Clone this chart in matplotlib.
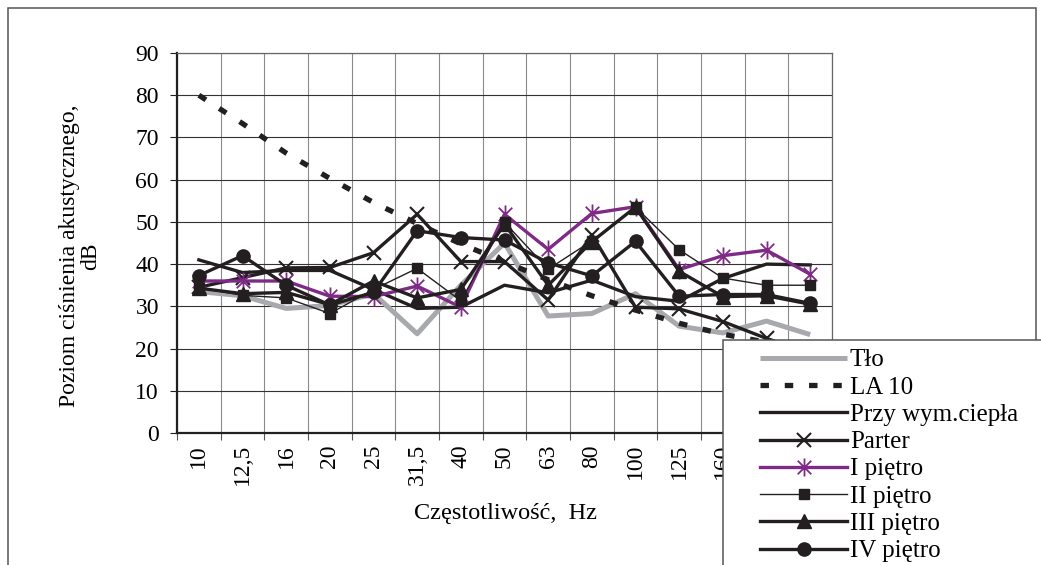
import numpy as np
import matplotlib.pyplot as plt
from matplotlib.path import Path
from matplotlib.patches import Rectangle

plt.rcParams["font.family"] = ["Liberation Serif", "DejaVu Serif"]
plt.rcParams["font.size"] = 17

freq = ["10", "12,5", "16", "20", "25", "31,5", "40", "50", "63", "80",
        "100", "125", "160", "200", "250"]
tlo = [33.5, 32.5, 29.5, 30.2, 33.0, 23.5, 35.0, 45.0, 27.7, 28.3, 33.0, 25.3, 23.7, 26.5, 23.3]
la10 = [80.0, 73.3, 66.3, 60.3, 54.6, 49.6, 44.8, 40.5, 36.3, 32.5, 29.1, 26.0, 23.4, 21.5, 19.8]
wymiennik = [41.0, 38.0, 38.5, 38.5, 34.0, 29.5, 29.8, 35.0, 33.2, 36.2, 32.3, 31.2, 36.6, 40.0, 39.8]
parter = [34.5, 36.8, 39.1, 39.2, 42.7, 51.8, 40.6, 40.6, 31.5, 47.0, 29.8, 29.4, 26.4, 22.4, 19.0]
pietro1 = [36.0, 36.0, 36.0, 32.4, 32.3, 34.8, 29.8, 51.8, 43.5, 52.0, 53.6, 38.7, 42.0, 43.3, 37.6]
pietro2 = [34.4, 32.6, 32.0, 28.3, 34.0, 39.0, 31.3, 49.9, 38.8, 45.5, 53.5, 43.4, 36.7, 35.0, 35.0]
pietro3 = [34.3, 33.0, 33.3, 30.4, 36.0, 32.0, 34.0, 49.5, 35.0, 45.3, 53.5, 38.3, 32.3, 32.5, 30.5]
pietro4 = [37.3, 42.0, 35.0, 30.3, 33.3, 47.9, 46.3, 45.7, 40.3, 37.2, 45.4, 32.4, 32.8, 32.8, 30.7]

black = "#231f20"
purple = "#7f2a87"
star = Path([(0, -1), (0, 1), (-0.75, -0.75), (0.75, 0.75), (-0.75, 0.75), (0.75, -0.75)],
            [Path.MOVETO, Path.LINETO, Path.MOVETO, Path.LINETO, Path.MOVETO, Path.LINETO])

W, H = 1041, 565
fig = plt.figure(figsize=(W / 100, H / 100), dpi=100)
ax = fig.add_axes([177 / W, 1 - 433 / H, (832 - 177) / W, (433 - 53) / H])
x = np.arange(len(freq))

ax.plot(x, tlo, color="#a7a9ac", lw=3.6, solid_capstyle="butt", label="Tło")
ax.plot(x, la10, color=black, lw=3.8, ls=(0, (1.6, 3.0)), dash_capstyle="butt", label="LA 10")
ax.plot(x, wymiennik, color=black, lw=2.4, label="Przy wym.ciepła")
ax.plot(x, parter, color=black, lw=2.4, marker="x", ms=10, mew=1.5, label="Parter")
ax.plot(x, pietro1, color=purple, lw=2.4, marker=star, ms=13, mew=1.3, label="I piętro")
ax.plot(x, pietro2, color=black, lw=1.0, marker="s", ms=6.5, label="II piętro")
ax.plot(x, pietro3, color=black, lw=2.4, marker="^", ms=9.5, label="III piętro")
ax.plot(x, pietro4, color=black, lw=2.4, marker="o", ms=9.5, label="IV piętro")

ax.set_xlim(-0.5, len(freq) - 0.5)
ax.set_ylim(0, 90)
ax.set_yticks(range(0, 91, 10))
ax.set_xticks(x)
ax.set_xticklabels(freq, rotation=90, va="top", ha="center")
ax.set_xticks(np.arange(-0.5, len(freq)), minor=True)
ax.tick_params(axis="x", which="major", length=0, pad=8)
ax.tick_params(axis="x", which="minor", length=5, width=0.8, color="#555555")
ax.tick_params(axis="y", length=5, width=0.8, pad=8, color=black)
ax.yaxis.grid(True, color="#333333", lw=0.8)
ax.xaxis.grid(True, which="minor", color="#8a8a8a", lw=0.8)
ax.set_axisbelow(True)
for side in ["left", "bottom"]:
    ax.spines[side].set_color(black)
    ax.spines[side].set_linewidth(1.6)
for side in ["top", "right"]:
    ax.spines[side].set_color("#666666")
    ax.spines[side].set_linewidth(0.9)

fig.text(80 / W, 1 - 256 / H, "Poziom ciśnienia akustycznego,\ndB", rotation=90,
         ha="center", va="center", multialignment="center", fontsize=17, linespacing=1.05)
fig.text(506 / W, 1 - 514 / H, "Częstotliwość,  Hz", ha="center", va="center", fontsize=17.5)

# outer chart frame and legend box, both running off the bottom of the picture
fig.add_artist(Rectangle((8 / W, -0.2), 1028 / W, 1.2 - 8 / H, transform=fig.transFigure,
                         fill=False, edgecolor="#555555", lw=1.1, zorder=1))
fig.add_artist(Rectangle((723 / W, -0.2), 0.4, 0.2 + 1 - 340 / H, transform=fig.transFigure,
                         facecolor="white", edgecolor="#555555", lw=1.1, zorder=3))

handles, labels = ax.get_legend_handles_labels()
fig.legend(handles, labels, loc="upper left", bbox_to_anchor=(760 / W, 1 - 349 / H),
           frameon=False, borderpad=0, borderaxespad=0, handlelength=3.48,
           handletextpad=0.12, labelspacing=0.19, fontsize=18)

fig.savefig("out.png", dpi=100)
